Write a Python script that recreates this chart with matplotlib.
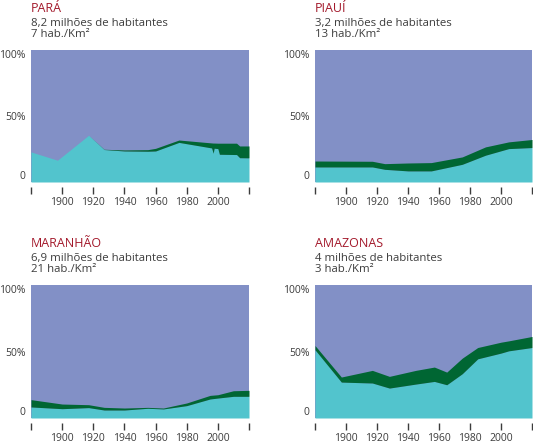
import numpy as np
import matplotlib.pyplot as plt

# ----------------------------
# Data (percent of population)
# lower = cyan band, upper = top of dark green band
# ----------------------------
para_years = [1880, 1897, 1917, 1927, 1940, 1955, 1960, 1975, 1996, 1997, 1997.6, 2000, 2001, 2012, 2014, 2020]
para_lower = [22.8, 16.5, 35.4, 24.6, 23.5, 23.3, 23.5, 30.0, 25.8, 21.8, 25.6, 25.3, 21.0, 20.8, 18.4, 18.3]
para_upper = [22.8, 16.5, 35.4, 24.8, 24.3, 24.5, 25.5, 31.8, 29.6, 29.5, 29.5, 29.4, 29.4, 29.4, 27.3, 27.3]

piaui_years = [1880, 1917, 1925, 1940, 1955, 1975, 1990, 2005, 2020]
piaui_lower = [11.4, 11.4, 9.6, 8.4, 8.4, 13.4, 20.3, 25.3, 26.1]
piaui_upper = [15.9, 15.7, 13.9, 14.4, 14.7, 19.0, 26.6, 30.4, 32.2]

maranhao_years = [1880, 1900, 1917, 1927, 1940, 1955, 1965, 1980, 1995, 2000, 2010, 2020]
maranhao_lower = [8.3, 7.0, 7.8, 6.0, 6.0, 7.3, 6.8, 9.3, 14.3, 15.0, 16.3, 16.3]
maranhao_upper = [13.8, 10.5, 10.0, 8.0, 7.5, 8.0, 7.5, 11.3, 17.0, 17.5, 20.5, 20.8]

amazonas_years = [1880, 1897, 1917, 1928, 1945, 1957, 1965, 1975, 1985, 2000, 2005, 2020]
amazonas_lower = [51.3, 27.0, 26.3, 22.5, 25.5, 27.5, 25.0, 33.3, 44.5, 48.8, 50.5, 53.0]
amazonas_upper = [54.5, 30.8, 35.8, 31.3, 35.8, 38.3, 34.5, 45.0, 53.0, 57.0, 58.0, 61.3]

titles = ['PARÁ', 'PIAUÍ', 'MARANHÃO', 'AMAZONAS']
subtitles = ['8,2 milhões de habitantes', '3,2 milhões de habitantes',
             '6,9 milhões de habitantes', '4 milhões de habitantes']
densities = ['7 hab./Km²', '13 hab./Km²', '21 hab./Km²', '3 hab./Km²']

x_ticks = [1880, 1900, 1920, 1940, 1960, 1980, 2000, 2020]
x_labels = ['', '1900', '1920', '1940', '1960', '1980', '2000', '']

purple = '#8290c6'
cyan = '#52c4cd'
green = '#006633'
red = '#a3192b'
gray = '#3c3c3c'

plt.rcParams['font.family'] = ['Open Sans', 'DejaVu Sans']

W, H = 533, 443
fig = plt.figure(figsize=(W / 100, H / 100), dpi=100)

# axes boxes in pixels: left, top, right, bottom
boxes = [(31, 50, 249, 182), (315, 50, 532, 182),
         (31, 285, 249, 418), (315, 285, 532, 418)]

series = [(para_years, para_lower, para_upper),
          (piaui_years, piaui_lower, piaui_upper),
          (maranhao_years, maranhao_lower, maranhao_upper),
          (amazonas_years, amazonas_lower, amazonas_upper)]

for i, (l, t, r, b) in enumerate(boxes):
    ax = fig.add_axes([l / W, 1 - b / H, (r - l) / W, (b - t) / H])
    yrs, lo, up = series[i]
    ax.set_facecolor(purple)
    ax.fill_between(yrs, 0, lo, color=cyan, lw=0)
    ax.fill_between(yrs, lo, up, color=green, lw=0)
    ax.set_xlim(1880, 2020)
    ax.set_ylim(0, 100)

    for s in ax.spines.values():
        s.set_visible(False)
    ax.spines['bottom'].set_position(('outward', 3.6))

    ax.set_xticks(x_ticks)
    ax.set_xticklabels(x_labels, fontsize=7.5, color=gray)
    ax.tick_params(axis='x', direction='out', length=5.3, width=1.0, color=gray, pad=2)

    ax.set_yticks([0, 50, 100])
    ax.set_yticklabels(['0', '50%', '100%'], fontsize=7.5, color=gray)
    ax.tick_params(axis='y', length=0, pad=4)
    yl = ax.get_yticklabels()
    yl[0].set_va('bottom')
    yl[2].set_va('top')

    # heading texts
    fig.text(l / W, 1 - (t - 38) / H, titles[i], fontsize=9.0, color=red, va='baseline')
    fig.text(l / W, 1 - (t - 24) / H, subtitles[i], fontsize=8.2, color=gray, va='baseline')
    fig.text(l / W, 1 - (t - 13) / H, densities[i], fontsize=8.2, color=gray, va='baseline')

plt.savefig('out.png', dpi=100)
